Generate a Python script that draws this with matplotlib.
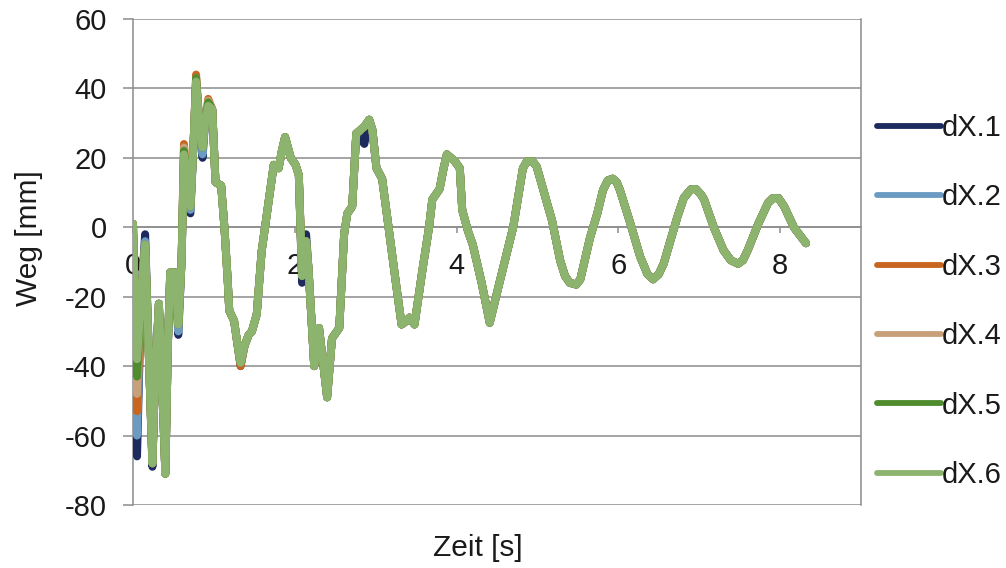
import numpy as np
import matplotlib
matplotlib.use("Agg")
import matplotlib.pyplot as plt

plt.rcParams['font.family'] = ['Liberation Sans', 'DejaVu Sans']
plt.rcParams['axes.unicode_minus'] = False

# time [s]
t = [0.00, 0.02, 0.05, 0.10, 0.15, 0.20, 0.24, 0.27, 0.32, 0.36, 0.40, 0.43, 0.46,
     0.52, 0.56, 0.60, 0.63, 0.68, 0.71, 0.75, 0.78, 0.82, 0.86, 0.89, 0.93, 0.98,
     1.02, 1.09, 1.13, 1.17, 1.19, 1.25, 1.30, 1.33, 1.38, 1.43, 1.47, 1.53, 1.59,
     1.68, 1.74, 1.80, 1.84, 1.88, 1.95, 2.01, 2.05, 2.09, 2.14, 2.17, 2.24, 2.30, 2.40,
     2.46, 2.55, 2.61, 2.65, 2.71, 2.76, 2.86, 2.92, 2.96, 3.01, 3.08, 3.17, 3.25,
     3.32, 3.38, 3.42, 3.48, 3.58, 3.66, 3.70, 3.79, 3.84, 3.88, 3.93, 3.98, 4.04, 4.07,
     4.14, 4.20, 4.31, 4.41, 4.53, 4.70, 4.82, 4.87, 4.94, 4.99, 5.07, 5.13, 5.18,
     5.28, 5.34, 5.40, 5.48, 5.53, 5.59, 5.65, 5.74, 5.81, 5.87, 5.93, 5.98, 6.02,
     6.15, 6.27, 6.36, 6.43, 6.50, 6.56, 6.73, 6.81, 6.90, 6.96, 7.02, 7.06, 7.18,
     7.30, 7.39, 7.48, 7.54, 7.60, 7.73, 7.85, 7.91, 7.98, 8.05, 8.17, 8.32]

# displacement of dX.6 [mm] (the other sensors follow it except at a few peaks)
dx6 = [1, -20, -38, -20, -5, -40, -68, -45, -22, -45, -71, -35, -13,
       -13, -28, -10, 21, 10, 6, 25, 42, 30, 23, 30, 35, 34,
       13, 12, 0, -15, -24, -27, -35, -39, -34, -31, -30, -25, -7,
       8, 18, 17, 22, 26, 20, 18, 15, -14, -4, -12, -40, -29, -49,
       -32, -29, -2, 4, 6, 27, 29, 31, 28, 17, 14, -2, -16,
       -28, -27, -26, -28, -12, 0, 8, 11, 17, 21, 20, 19, 17, 5,
       -1, -5, -16, -27.5, -16, 0, 17, 19, 19, 17.5, 11, 6, 2,
       -9.5, -14, -16, -16.5, -15, -9, -3, 4, 10.7, 13.5, 14, 13, 10.7,
       1, -8.5, -13.5, -15, -13.5, -10.5, 3, 8.5, 11, 11, 9.5, 8, 0,
       -6.6, -9.5, -10.5, -9.5, -6.6, 1, 7, 8.4, 8.4, 6, 0, -4.6]

# peak values where the other sensors differ from dX.6: (time, value)
dx1_peaks = [(0.05, -66), (0.15, -2), (0.24, -69), (0.56, -31), (0.63, 20), (0.71, 4),
             (0.86, 20), (1.33, -40), (2.09, -16), (2.14, -2), (2.86, 24)]
dx2_peaks = [(0.05, -60), (0.15, -4), (0.56, -30), (0.71, 5), (0.86, 21)]
dx3_peaks = [(0.05, -53), (0.63, 24), (0.78, 44), (0.93, 37), (1.33, -40), (2.09, -14)]
dx4_peaks = [(0.05, -48), (0.63, 23), (0.78, 43), (0.93, 36.5)]
dx5_peaks = [(0.05, -43), (0.63, 22), (0.78, 43), (0.93, 36)]

labels = ['dX.1', 'dX.2', 'dX.3', 'dX.4', 'dX.5', 'dX.6']
colors = ['#1c2a5e', '#6b9bc3', '#c8661f', '#c7a07a', '#4e8c2d', '#8db46f']

t_arr = np.array(t)
base = np.array(dx6, dtype=float)


def with_peaks(peaks):
    y = base.copy()
    for tp, v in peaks:
        y[np.argmin(np.abs(t_arr - tp))] = v
    return y


series = [with_peaks(dx1_peaks), with_peaks(dx2_peaks), with_peaks(dx3_peaks),
          with_peaks(dx4_peaks), with_peaks(dx5_peaks), base]

fig = plt.figure(figsize=(10.06, 5.68), dpi=100)
ax = fig.add_axes([133 / 1006, 1 - 505 / 568, (861 - 133) / 1006, (505 - 19) / 568])

grid_c = '#8c8c8c'
txt_c = '#1a1a1a'
for y, lab, c in zip(series, labels, colors):
    ax.plot(t_arr, y, color=c, lw=5.7, label=lab, solid_joinstyle='round',
            solid_capstyle='round', zorder=3)

ax.set_xlim(0, 9)
ax.set_ylim(-80, 60)
ax.set_yticks(np.arange(-80, 61, 20))
ax.set_xticks([0, 2, 4, 6, 8])
ax.yaxis.grid(True, color=grid_c, lw=1.1)
ax.set_axisbelow(True)

ax.spines['top'].set_visible(False)
ax.spines['bottom'].set_position(('data', 0))
for s in ['left', 'right', 'bottom']:
    ax.spines[s].set_color(grid_c)
    ax.spines[s].set_linewidth(1.1)
ax.spines['bottom'].set_zorder(1)

ax.tick_params(axis='y', direction='out', length=7, width=1.1, color=grid_c,
               labelsize=21, pad=12, labelcolor=txt_c)
ax.tick_params(axis='x', direction='out', length=4, width=1.1, color=grid_c,
               labelsize=21, pad=14, labelcolor=txt_c)

fig.text(29 / 1006, 1 - 238 / 568, 'Weg [mm]', rotation=90, ha='center', va='center',
         fontsize=21.5, color=txt_c)
fig.text(478 / 1006, 1 - 548 / 568, 'Zeit [s]', ha='center', va='center',
         fontsize=21.5, color=txt_c)

leg = fig.legend(loc='upper left', bbox_to_anchor=(877 / 1006, 1 - 114 / 568),
                 frameon=False, fontsize=21, handlelength=2.2, handletextpad=0.02,
                 labelspacing=1.42, borderaxespad=0, borderpad=0)
for h in leg.get_lines():
    h.set_linewidth(4.2)
for tx in leg.get_texts():
    tx.set_color(txt_c)

fig.savefig('out.png', dpi=100)
